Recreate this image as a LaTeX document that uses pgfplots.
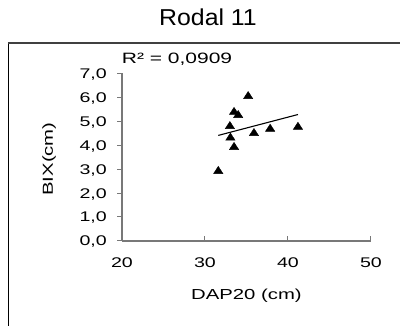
\documentclass[border=0pt]{standalone}
\usepackage{fontspec}
\setmainfont{Liberation Sans}[FakeStretch=1.4]
\newfontfamily\titlefont{Liberation Sans}[FakeStretch=1.08]
\usepackage{pgfplots}
\pgfplotsset{compat=1.18}
\definecolor{axisgray}{RGB}{120,120,120}
\definecolor{framegray}{RGB}{64,64,64}
\begin{document}
\begin{tikzpicture}
\path[use as bounding box] (0pt,0pt) rectangle (400pt,-326pt);
\draw[black, line width=1.5pt] (8.5pt,-340pt) -- (8.5pt,-43pt);
\draw[framegray, line width=2pt] (7.75pt,-43pt) -- (410pt,-43pt);
\node[anchor=base, inner sep=0pt, font=\titlefont\fontsize{23}{27}\selectfont] at (208pt,-26pt) {Rodal 11};
\node[anchor=base, inner sep=0pt, font=\fontsize{15}{18}\selectfont] at (177pt,-64pt) {R² = 0,0909};
\begin{axis}[
  at={(122pt,-241pt)}, anchor=south west,
  scale only axis, width=249pt, height=168pt,
  xmin=20, xmax=50, ymin=0, ymax=7,
  xtick={20,30,40,50}, ytick={0,1,2,3,4,5,6,7},
  axis lines=left,
  axis line style={draw=axisgray, line width=1.5pt, -},
  tick align=inside,
  major tick length=4.5pt,
  tick style={draw=axisgray, line width=1pt},
  ytick style={xshift=-4.5pt},
  clip=false,
  font=\fontsize{14}{17}\selectfont,
  /pgf/number format/assume math mode=true,
  xticklabel style={anchor=base, inner sep=0pt, yshift=-27pt},
  yticklabel style={anchor=base east, inner sep=0pt, xshift=-15pt, yshift=-5pt,
    /pgf/number format/fixed, /pgf/number format/fixed zerofill,
    /pgf/number format/precision=1, /pgf/number format/use comma},
  every axis x label/.style={at={(axis description cs:0.5,0)}, anchor=base, yshift=-59pt, font=\fontsize{14.5}{17}\selectfont},
  every axis y label/.style={at={(axis description cs:0,0.5)}, xshift=-69pt, yshift=-2pt, rotate=90, anchor=base, font=\fontsize{14.5}{17}\selectfont},
  xlabel={DAP20 (cm)},
  ylabel={BIX(cm)},
]
\addplot[only marks, mark=triangle*, mark size=4.8pt, mark options={fill=black, draw=black, xscale=1.12}]
  coordinates {(31.6,2.91) (33.06,4.30) (33.5,3.91) (33.0,4.78) (33.5,5.37) (34.0,5.24) (35.2,6.03) (35.9,4.49) (37.85,4.67) (41.2,4.75)};
\addplot[black, line width=1.1pt, mark=none] coordinates {(31.6,4.40) (41.2,5.27)};
\end{axis}
\end{tikzpicture}
\end{document}
